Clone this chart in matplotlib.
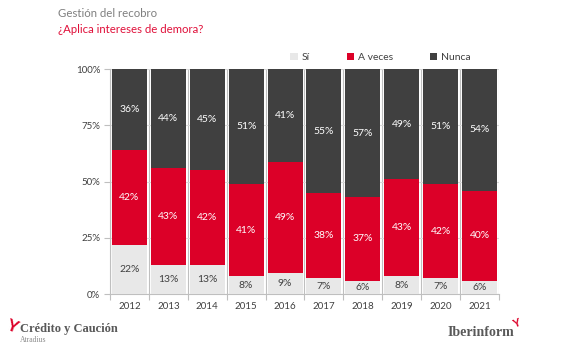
import matplotlib
matplotlib.use("Agg")
import matplotlib.pyplot as plt
import numpy as np

years = ["2012", "2013", "2014", "2015", "2016", "2017", "2018", "2019", "2020", "2021"]
si = [22, 13, 13, 8, 9.4, 7, 6, 8, 7, 6]
a_veces = [42, 43, 42, 41, 49.4, 38, 37, 43, 42, 40]
nunca = [36, 44, 45, 51, 41.2, 55, 57, 49, 51, 54]
series_names = ["Sí", "A veces", "Nunca"]
colors = ["#E8E8E8", "#DC0028", "#404040"]
label_colors = ["#404040", "white", "white"]
yticks = [0, 25, 50, 75, 100]

plt.rcParams['font.family'] = ['Lato', 'DejaVu Sans']

fig = plt.figure(figsize=(5.67, 3.46), dpi=100)
ax = fig.add_axes([0.194, 0.150, 0.686, 0.650])

x = np.arange(len(years))
bottom = np.zeros(len(years))
series = [si, a_veces, nunca]
for vals, col, lc, name in zip(series, colors, label_colors, series_names):
    vals = np.array(vals, dtype=float)
    ax.bar(x, vals, bottom=bottom, width=0.9, color=col, edgecolor=col,
           linewidth=0.0, label=name, zorder=3)
    for xi, b, v in zip(x, bottom, vals):
        ax.text(xi, b + v / 2, f"{int(round(v))}%", ha="center", va="center",
                color=lc, fontsize=7.5, zorder=4)
    bottom += vals

ax.set_xlim(-0.5, len(years) - 0.5)
ax.set_ylim(0, 100)
ax.set_yticks(yticks)
ax.set_yticklabels([f"{t}%" for t in yticks], fontsize=7, color="#404040")
ax.set_xticks(np.arange(-0.5, len(years)), minor=False)
ax.set_xticklabels([])
ax.set_xticks(x, minor=True)
ax.set_xticklabels(years, minor=True, fontsize=7, color="#404040")
ax.tick_params(axis="x", which="minor", length=0, pad=6)
ax.tick_params(axis="x", which="major", length=4, color="#BFBFBF")
ax.tick_params(axis="y", length=4, color="#BFBFBF", pad=3)

ax.grid(True, axis="y", color="#D9D9D9", linewidth=0.8, zorder=0)
ax.grid(True, axis="x", which="major", color="#BFBFBF", linewidth=0.8, zorder=0)
for s in ["top", "right"]:
    ax.spines[s].set_visible(False)
for s in ["left", "bottom"]:
    ax.spines[s].set_color("#BFBFBF")
    ax.spines[s].set_linewidth(0.8)

leg = ax.legend(loc="lower right", bbox_to_anchor=(0.946, 1.0), ncol=3, frameon=False,
                fontsize=7.5, handlelength=0.7, handleheight=0.7, columnspacing=3.5,
                handletextpad=0.4, borderaxespad=0.3)
for t in leg.get_texts():
    t.set_color("#404040")

fig.text(0.102, 0.962, "Gestión del recobro", fontsize=8.2, color="#7F7F7F", va="center")
fig.text(0.102, 0.915, "¿Aplica intereses de demora?", fontsize=8.2, color="#E0103A", va="center")

# Logos as text
fig.text(0.035, 0.048, "Crédito y Caución", fontsize=9, color="#595959",
         family=["Liberation Serif", "DejaVu Serif"], weight="bold", va="center")
fig.text(0.036, 0.018, "Atradius", fontsize=5.5, color="#8C8C8C",
         family=["Liberation Serif", "DejaVu Serif"], va="center")
fig.text(0.008, 0.058, "Y", fontsize=12, color="#DC0028", weight="bold", va="center",
         rotation=-20)
fig.text(0.79, 0.040, "Iberinform", fontsize=10, color="#595959",
         family=["Liberation Serif", "DejaVu Serif"], weight="bold", va="center")
fig.text(0.91, 0.065, "Y", fontsize=8, color="#DC0028", weight="bold", va="center",
         ha="center", rotation=20)

fig.savefig("out.png", dpi=100)
